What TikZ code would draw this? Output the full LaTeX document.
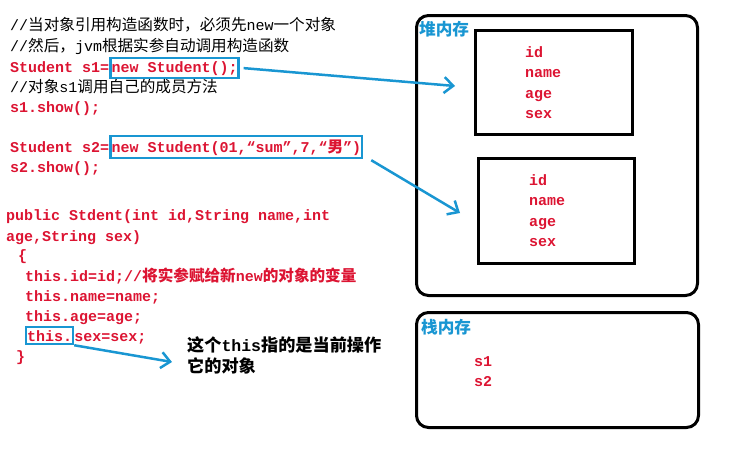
\documentclass[tikz,border=0pt]{standalone}
\usepackage{fontspec}
\setmainfont{Liberation Serif}
\setmonofont{Liberation Mono}
\newfontfamily\cjk[Scale=1.04]{Noto Sans CJK SC}
\usetikzlibrary{arrows.meta}
\definecolor{codered}{RGB}{220,20,50}
\definecolor{hlblue}{RGB}{25,150,210}
\newcommand\C[1]{{\cjk #1}}
\begin{document}
\begin{tikzpicture}[x=1pt,y=-1pt,
  txt/.style={anchor=base west, inner sep=0pt, font=\fontsize{15}{18}\selectfont\ttfamily},
  comment/.style={txt, text=black},
  code/.style={txt, text=codered, font=\fontsize{15}{18}\selectfont\ttfamily\bfseries},
  hl/.style={code, draw=hlblue, line width=2.2pt, inner xsep=1pt, inner ysep=3pt},
  memlabel/.style={anchor=base west, inner sep=0pt, text=hlblue, font=\fontsize{16}{18}\selectfont\cjk\bfseries},
  membox/.style={draw=black, line width=3pt, rounded corners=12pt, anchor=north west},
  objbox/.style={draw=black, line width=3pt, anchor=north west},
  fields/.style={anchor=north west, inner sep=0pt, align=left, text=codered, font=\fontsize{15}{20.5}\selectfont\ttfamily\bfseries},
  ptr/.style={draw=hlblue, line width=2.5pt, -{Straight Barb[length=9pt,width=16pt,line width=2.5pt]}},
  note/.style={anchor=base west, inner sep=0pt, font=\fontsize{16.5}{18}\selectfont\ttfamily\bfseries}
]
\useasboundingbox (0,0) rectangle (754,458);

% ---- code text ----
\node[comment] (l1) at (10,30) {//\C{当对象引用构造函数时，必须先}new\C{一个对象}};
\node[comment] (l2) at (10,51) {//\C{然后，}jvm\C{根据实参自动调用构造函数}};
\node[code] (l3a) at (10,72) {Student s1=};
\node[hl] (hl1) at (l3a.base east) {new Student();};
\node[comment] (l4) at (10,92) {//\C{对象}s1\C{调用自己的成员方法}};
\node[code] (l5) at (10,112) {s1.show();};

\node[code] (l6a) at (10,152) {Student s2=};
\node[hl] (hl2) at (l6a.base east) {new Student(01,“sum”,7,“\C{男}”)};
\node[code] (l7) at (10,172) {s2.show();};

\node[code] (l8) at (6,220) {public Stdent(int id,String name,int};
\node[code] (l9) at (6,241) {age,String sex)};
\node[code] (l10) at (18,260) {\{};
\node[code] (l11) at (25,281) {this.id=id;//\C{将实参赋给新}new\C{的对象的变量}};
\node[code] (l12) at (25,301) {this.name=name;};
\node[code] (l13) at (25,321) {this.age=age;};
\node[hl] (hl3) at (25,341) {this.};
\node[code] (l14) at (hl3.base east) {sex=sex;};
\node[code] (l15) at (16,361) {\}};

\node[note] (n1) at (187,351) {\C{这个}this\C{指的是当前操作}};
\node[note] (n2) at (187,372) {\C{它的对象}};

% ---- heap ----
\node[membox, minimum width=281, minimum height=280] (heap) at (415,14) {};
\node[memlabel] (heapl) at (419,35) {堆内存};
\node[objbox, minimum width=157, minimum height=104] (ob1) at (474,29) {};
\node[fields] (f1) at (525,46) {id\\name\\age\\sex};
\node[objbox, minimum width=156, minimum height=105] (ob2) at (477,157) {};
\node[fields] (f2) at (529,174) {id\\name\\age\\sex};

% ---- stack ----
\node[membox, minimum width=282, minimum height=115] (stack) at (415,311) {};
\node[memlabel] (stackl) at (421,333) {栈内存};
\node[fields] (sv) at (474,356) {s1\\s2};

% ---- pointers ----
\coordinate (t1) at (455,86);
\coordinate (t2) at (460,213);
\coordinate (t3) at (172,362);
\draw[ptr] ([xshift=4pt]hl1.east) -- (t1);
\draw[ptr] ([xshift=8pt,yshift=-1pt]hl2.south east) -- (t2);
\draw[ptr] (hl3.south east) -- (t3);
\end{tikzpicture}
\end{document}
